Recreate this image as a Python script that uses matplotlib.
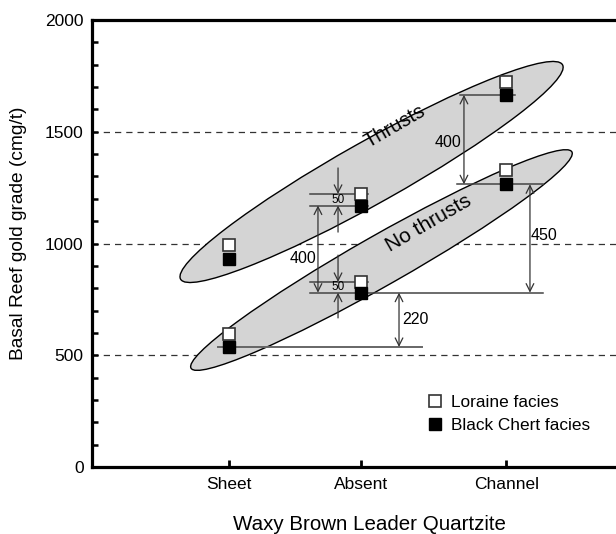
import matplotlib
matplotlib.use('Agg')
import matplotlib.pyplot as plt
from matplotlib.patches import Ellipse
from matplotlib.transforms import ScaledTranslation
from matplotlib.lines import Line2D

plt.rcParams['font.family'] = ['Liberation Sans', 'DejaVu Sans']

# categories on the x axis (positions are not evenly spaced in the original)
categories = ['Sheet', 'Absent', 'Channel']
cat_x = [1.0, 2.0, 3.1]

# grades, cmg/t
loraine_thrusts = [995, 1222, 1722]
black_thrusts = [930, 1170, 1665]
loraine_no_thrusts = [595, 828, 1327]
black_no_thrusts = [537, 780, 1265]

fig = plt.figure(figsize=(6.16, 5.34), dpi=100)
ax = fig.add_axes([92 / 616, 67 / 534, 524 / 616, 447 / 534])
ax.set_xlim(1 - 137 / 132, 1 + 387 / 132)
ax.set_ylim(0, 2000)

# dashed reference lines
for v in [500, 1000, 1500]:
    ax.axhline(v, color='#333333', lw=0.9, ls=(0, (5, 4)), zorder=1)


def blob(cx, cy, length_in, width_in, angle):
    # ellipse centred in data coords, sized in inches so the shape is not skewed
    tr = fig.dpi_scale_trans + ScaledTranslation(cx, cy, ax.transData)
    e = Ellipse((0, 0), length_in, width_in, angle=angle, transform=tr,
                facecolor='#d4d4d4', edgecolor='black', lw=1.0, zorder=2)
    ax.add_patch(e)


blob(2.08, 1320, 4.38, 0.62, 29.3)
blob(2.155, 926, 4.38, 0.50, 29.6)

ax.text(2.26, 1522, 'Thrusts', rotation=30, ha='center', va='center',
        fontsize=14.5, zorder=5, rotation_mode='anchor')
ax.text(2.51, 1090, 'No thrusts', rotation=30, ha='center', va='center',
        fontsize=15, zorder=5, rotation_mode='anchor')

lc = '#444444'


def hline(y, x0, x1):
    ax.plot([x0, x1], [y, y], color=lc, lw=1.1, zorder=3)


def arrow(x, y0, y1, style='<->'):
    ax.annotate('', xy=(x, y1), xytext=(x, y0), zorder=3,
                arrowprops=dict(arrowstyle=style + ',head_length=0.5,head_width=0.25',
                                color='#333333', lw=0.9, shrinkA=0, shrinkB=0,
                                mutation_scale=11))


xa = cat_x[1]
xc = cat_x[2]
xs = cat_x[0]

# Absent, thrusts: 50 difference
hline(loraine_thrusts[1], xa - 0.386, xa + 0.053)
hline(black_thrusts[1], xa - 0.386, xa + 0.053)
arrow(xa - 0.174, 1338, loraine_thrusts[1], '->')
arrow(xa - 0.174, 1051, black_thrusts[1], '->')
ax.text(xa - 0.174, (loraine_thrusts[1] + black_thrusts[1]) / 2, '50',
        ha='center', va='center', fontsize=8.5, zorder=5)

# Absent, no thrusts: 50 difference
hline(loraine_no_thrusts[1], xa - 0.386, xa + 0.053)
hline(black_no_thrusts[1], xa - 0.386, xa + 1.379)
arrow(xa - 0.174, 948, loraine_no_thrusts[1], '->')
arrow(xa - 0.174, 667, black_no_thrusts[1], '->')
ax.text(xa - 0.174, (loraine_no_thrusts[1] + black_no_thrusts[1]) / 2, '50',
        ha='center', va='center', fontsize=8.5, zorder=5)

# Absent thrusts vs no thrusts: 400
arrow(xa - 0.326, black_thrusts[1], black_no_thrusts[1])
ax.text(xa - 0.44, 935, '400', ha='center', va='center', fontsize=11.5, zorder=5)

# Sheet vs Absent, no thrusts: 220
ax.plot([xs - 0.083, xs + 1.462], [black_no_thrusts[0]] * 2, color='#666666',
        lw=1.4, zorder=3)
arrow(xa + 0.288, black_no_thrusts[1], black_no_thrusts[0])
ax.text(xa + 0.41, 662, '220', ha='center', va='center', fontsize=11.5, zorder=5)

# Channel thrusts vs no thrusts: 400
hline(black_thrusts[2], xc - 0.35, xc + 0.067)
hline(black_no_thrusts[2], xc - 0.373, xc + 0.279)
arrow(xc - 0.32, black_thrusts[2], black_no_thrusts[2])
ax.text(xc - 0.44, 1454, '400', ha='center', va='center', fontsize=11.5, zorder=5)

# Channel no thrusts vs Absent no thrusts: 450
arrow(xc + 0.18, black_no_thrusts[2], black_no_thrusts[1])
ax.text(xc + 0.29, 1038, '450', ha='center', va='center', fontsize=11.5, zorder=5)

# markers
for lor, blk in [(loraine_thrusts, black_thrusts), (loraine_no_thrusts, black_no_thrusts)]:
    ax.plot(cat_x, lor, 's', ms=8, mfc='white', mec='#333333', mew=1.2,
            ls='none', zorder=4)
    ax.plot(cat_x, blk, 's', ms=8, mfc='black', mec='black', mew=1.0,
            ls='none', zorder=4)

handles = [Line2D([], [], marker='s', ls='none', ms=8, mfc='white', mec='#333333', mew=1.2),
           Line2D([], [], marker='s', ls='none', ms=8, mfc='black', mec='black')]
ax.legend(handles, ['Loraine facies', 'Black Chert facies'], loc='upper left',
          bbox_to_anchor=(0.642, 0.162), frameon=False, handlelength=0.75,
          handletextpad=0.55, fontsize=12.4, labelspacing=0.5, borderpad=0,
          borderaxespad=0)

ax.set_xticks(cat_x)
ax.set_xticklabels(categories, fontsize=12.5)
ax.set_yticks([0, 500, 1000, 1500, 2000])
ax.set_yticks(range(0, 2001, 100), minor=True)
ax.tick_params(axis='y', which='both', direction='in', length=4, width=1.8,
               labelsize=12.5, pad=6)
ax.tick_params(axis='x', direction='in', length=5, width=2, pad=7)

for s in ['left', 'top', 'bottom']:
    ax.spines[s].set_linewidth(2.3)
ax.spines['right'].set_visible(False)

ax.set_ylabel('Basal Reef gold grade (cmg/t)', fontsize=13.8)
ax.set_xlabel('Waxy Brown Leader Quartzite', fontsize=14.8)
ax.yaxis.set_label_coords(-0.124, 0.523)
ax.xaxis.set_label_coords(0.529, -0.107)

fig.savefig('out.png', dpi=100)
